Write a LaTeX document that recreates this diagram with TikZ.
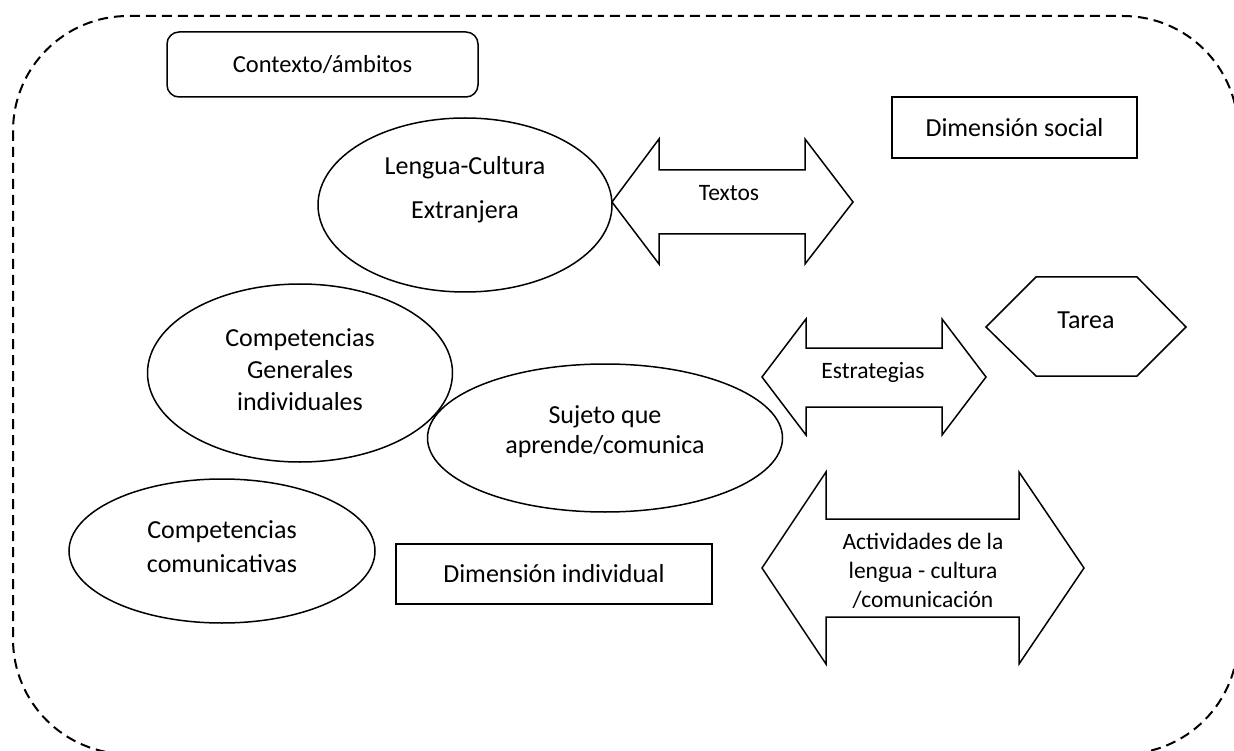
\documentclass[tikz,border=0pt]{standalone}
\usepackage{fontspec}
\setmainfont{Carlito}
\usetikzlibrary{shapes.geometric}
\begin{document}
\begin{tikzpicture}[x=1pt,y=-1pt,
  shapeline/.style={draw=black, line width=1.5pt, line join=miter},
  bigtext/.style={font=\fontsize{26}{32}\selectfont, align=center},
  smalltext/.style={font=\fontsize{23.5}{29}\selectfont, align=center},
  ellip/.style={shapeline, ellipse, inner sep=0pt, outer sep=0pt},
  boxnode/.style={shapeline, rectangle, inner sep=0pt, outer sep=0pt, bigtext},
]
\useasboundingbox (0,0) rectangle (1234,751);
\begin{scope}
\clip (0,0) rectangle (1234,751);
\draw[line width=2pt, dash pattern=on 10pt off 6pt, rounded corners=115pt] (13,16) rectangle (1238,754);
\end{scope}

% boxes
\node[boxnode, rounded corners=12pt, minimum width=311pt, minimum height=65pt, font=\fontsize{24.5}{30}\selectfont] (ctx) at (322.5,64.5) {Contexto/ámbitos};
\node[boxnode, minimum width=245pt, minimum height=61pt] (dsoc) at (1014.5,127.5) {Dimensión social};
\node[boxnode, minimum width=316pt, minimum height=60pt] (dind) at (554,574) {Dimensión individual};

% ellipses
\node[ellip, minimum width=294pt, minimum height=174pt] (lce) at (465,205) {};
\node[bigtext, font=\fontsize{26}{44}\selectfont] (lcet) at (465,190) {Lengua-Cultura\\Extranjera};

\node[ellip, minimum width=305pt, minimum height=178pt] (cg) at (300,373) {};
\node[bigtext] (cgt) at (300,370) {Competencias\\Generales\\individuales};

\node[ellip, minimum width=355pt, minimum height=148pt] (suj) at (605,438) {};
\node[bigtext, font=\fontsize{26}{30}\selectfont] (sujt) at (605,432) {Sujeto que\\aprende/comunica};

\node[ellip, minimum width=306pt, minimum height=144pt] (cc) at (222,551) {};
\node[bigtext, font=\fontsize{26}{34}\selectfont] (cct) at (222,547) {Competencias\\comunicativas};

% Textos double arrow
\draw[shapeline] (612,202) -- (659,139) -- (659,170) -- (805,170) -- (805,139) -- (853,202)
  -- (805,264) -- (805,234) -- (659,234) -- (659,264) -- cycle;
\node[smalltext] (txt) at (729,193) {Textos};

% Estrategias double arrow
\draw[shapeline] (762,377) -- (806,319) -- (806,348) -- (942,348) -- (942,319) -- (986,377)
  -- (942,435) -- (942,407) -- (806,407) -- (806,435) -- cycle;
\node[smalltext] (est) at (873,372) {Estrategias};

% Actividades double arrow
\draw[shapeline] (762,568) -- (826,472) -- (826,519) -- (1019,519) -- (1019,472) -- (1084,568)
  -- (1019,664) -- (1019,617) -- (826,617) -- (826,664) -- cycle;
\node[smalltext] (act) at (923,571) {Actividades de la\\lengua - cultura\\/comunicación};

% Tarea hexagon
\draw[shapeline] (986,327) -- (1036,277) -- (1137,277) -- (1186,327) -- (1137,376) -- (1036,376) -- cycle;
\node[bigtext] (tarea) at (1086,320) {Tarea};
\end{tikzpicture}
\end{document}
